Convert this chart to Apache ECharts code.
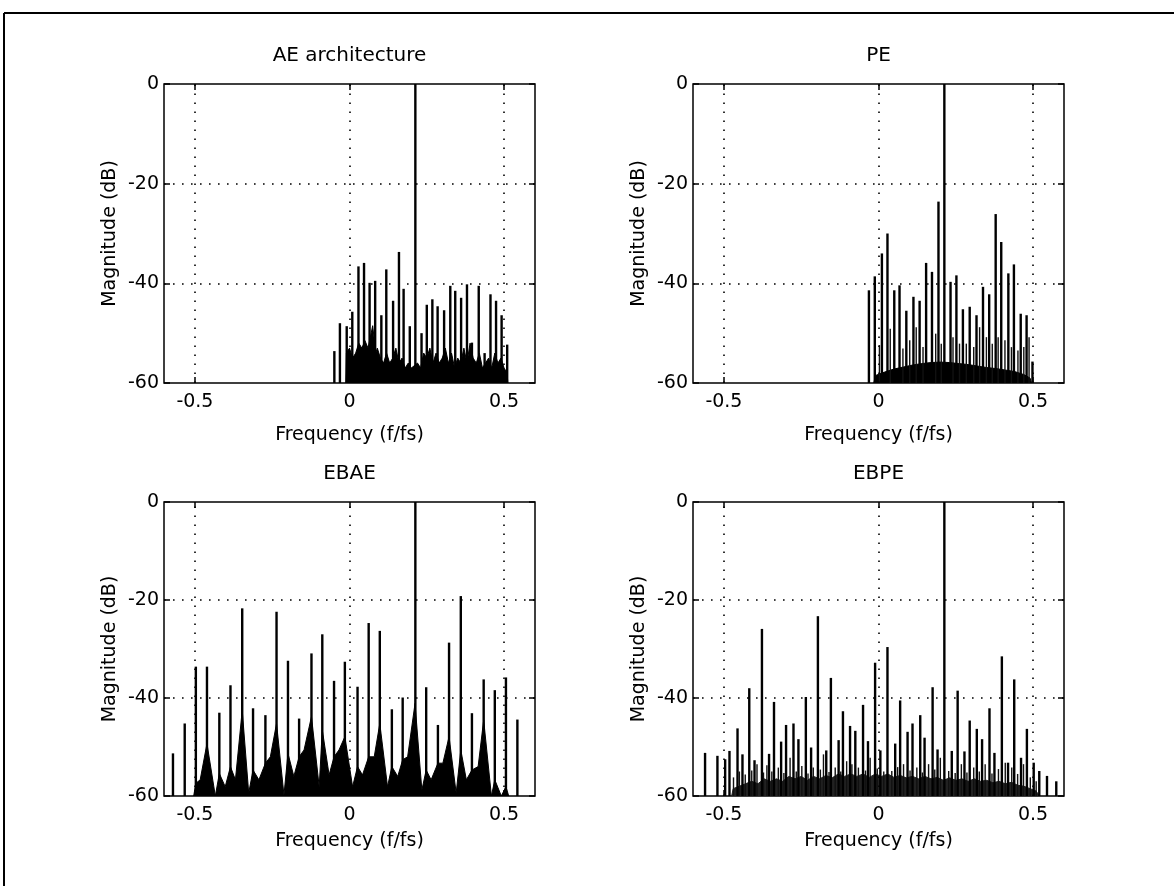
<!DOCTYPE html>
<html>
<head>
<meta charset="utf-8">
<script src="https://cdn.jsdelivr.net/npm/echarts@6/dist/echarts.min.js"></script>
<style>
html,body{margin:0;padding:0;background:#fff;}
#c{width:1174px;height:886px;}
</style>
</head>
<body>
<div id="c"></div>
<script>
// ---------- labels ----------
const TITLES = ['AE architecture', 'PE', 'EBAE', 'EBPE'];
const X_NAME = 'Frequency (f/fs)';
const Y_NAME = 'Magnitude (dB)';
const X_TICKS = [-0.5, 0, 0.5];
const Y_TICKS = [0, -20, -40, -60];
const X_GRIDLINES = [-0.5, 0, 0.5];
const Y_GRIDLINES = [-20, -40];

// ---------- AE architecture ----------
const AE_SPIKE_F  = [-0.049, -0.031, -0.009, 0.009, 0.029, 0.047, 0.065, 0.083, 0.103, 0.119, 0.141, 0.160, 0.175, 0.195, 0.213, 0.233, 0.250, 0.268, 0.285, 0.306, 0.326, 0.342, 0.361, 0.380, 0.396, 0.418, 0.437, 0.456, 0.474, 0.492, 0.510];
const AE_SPIKE_DB = [-53.6, -48.0, -48.6, -45.7, -36.6, -35.9, -39.9, -39.5, -46.4, -37.2, -43.5, -33.7, -41.1, -48.6, 0, -50.0, -44.3, -43.2, -44.6, -45.4, -40.5, -41.5, -42.9, -40.2, -51.9, -40.5, -54.0, -42.2, -43.5, -46.4, -52.3];
const AE_FLOOR_F  = [-0.012, -0.010, 0.000, 0.010, 0.020, 0.030, 0.040, 0.050, 0.060, 0.075, 0.085, 0.090, 0.100, 0.110, 0.120, 0.130, 0.140, 0.150, 0.160, 0.170, 0.180, 0.190, 0.200, 0.220, 0.230, 0.240, 0.250, 0.260, 0.270, 0.280, 0.290, 0.300, 0.310, 0.320, 0.330, 0.340, 0.350, 0.360, 0.370, 0.380, 0.390, 0.400, 0.410, 0.420, 0.430, 0.440, 0.450, 0.460, 0.470, 0.480, 0.490, 0.500, 0.510, 0.512];
const AE_FLOOR_DB = [-60, -54, -53, -55, -54, -52, -53, -51.5, -53, -48.5, -54, -53, -55, -56, -54, -56, -55, -53, -56, -55, -57, -56, -57, -56, -57, -54, -55, -53, -56, -54, -56, -55, -53, -56, -54, -57, -55, -56, -53, -56, -52, -55, -56, -54, -57, -56, -55, -57, -54, -56, -55, -57, -58, -60];

// ---------- PE ----------
const PE_SPIKE_F  = [-0.031, -0.012, 0.011, 0.029, 0.051, 0.068, 0.090, 0.113, 0.133, 0.154, 0.173, 0.194, 0.213, 0.233, 0.252, 0.273, 0.295, 0.317, 0.338, 0.358, 0.379, 0.397, 0.420, 0.438, 0.460, 0.479, 0.498];
const PE_SPIKE_DB = [-41.4, -38.6, -34.0, -30.0, -41.4, -40.4, -45.5, -42.7, -43.5, -35.9, -37.7, -23.6, 0, -39.7, -38.4, -45.2, -44.7, -46.4, -40.7, -42.2, -26.1, -31.7, -38.0, -36.2, -46.1, -46.4, -55.7];
const PE_MINOR_F  = [0.003, 0.038, 0.079, 0.101, 0.122, 0.144, 0.185, 0.203, 0.241, 0.262, 0.284, 0.308, 0.327, 0.349, 0.368, 0.387, 0.409, 0.430, 0.451, 0.470, 0.487];
const PE_MINOR_DB = [-52.4, -49.1, -53.1, -51.4, -48.8, -52.8, -50.1, -52.1, -50.8, -52.1, -52.1, -52.8, -48.8, -50.8, -52.1, -50.8, -51.4, -52.8, -53.5, -52.8, -50.8];
const PE_FLOOR_F  = [-0.015, -0.010, 0.020, 0.050, 0.080, 0.110, 0.140, 0.170, 0.200, 0.230, 0.260, 0.290, 0.320, 0.350, 0.380, 0.410, 0.440, 0.470, 0.490, 0.495];
const PE_FLOOR_DB = [-60, -58.5, -57.8, -57.2, -56.8, -56.4, -56.1, -55.9, -55.8, -55.9, -56.1, -56.3, -56.6, -56.9, -57.1, -57.4, -57.7, -58.3, -59.0, -60];

// ---------- EBAE ----------
const EBAE_SPIKE_F  = [-0.571, -0.533, -0.497, -0.461, -0.421, -0.385, -0.347, -0.312, -0.272, -0.236, -0.199, -0.163, -0.123, -0.088, -0.050, -0.015, 0.026, 0.062, 0.098, 0.137, 0.172, 0.213, 0.248, 0.286, 0.322, 0.360, 0.396, 0.434, 0.470, 0.506, 0.543];
const EBAE_SPIKE_DB = [-51.3, -45.2, -33.6, -33.6, -43.0, -37.4, -21.7, -42.1, -43.5, -22.4, -32.4, -44.2, -30.9, -27.0, -36.5, -32.6, -37.7, -24.7, -26.3, -42.3, -39.9, 0, -37.8, -45.5, -28.7, -19.2, -43.1, -36.2, -38.4, -35.8, -44.4];
const EBAE_FLOOR_F  = [-0.504, -0.497, -0.483, -0.461, -0.434, -0.421, -0.402, -0.385, -0.369, -0.347, -0.326, -0.312, -0.293, -0.272, -0.256, -0.236, -0.212, -0.199, -0.180, -0.163, -0.147, -0.123, -0.098, -0.088, -0.066, -0.050, -0.034, -0.015, 0.010, 0.026, 0.042, 0.062, 0.080, 0.098, 0.123, 0.137, 0.156, 0.172, 0.188, 0.212, 0.234, 0.248, 0.264, 0.286, 0.302, 0.322, 0.345, 0.360, 0.378, 0.396, 0.416, 0.434, 0.459, 0.470, 0.491, 0.506, 0.515];
const EBAE_FLOOR_DB = [-60, -57.4, -56.7, -49.3, -60, -55.4, -58.1, -54.0, -56.7, -42.5, -59.4, -54.7, -56.7, -53.3, -52.0, -45.2, -59.8, -51.3, -56.0, -52.0, -50.6, -43.8, -58.1, -46.5, -55.7, -52.0, -50.6, -47.9, -58.1, -54.0, -55.7, -52.0, -52.0, -45.2, -58.1, -54.0, -56.0, -52.6, -52.0, -41.1, -58.8, -54.7, -56.7, -53.3, -53.3, -47.9, -59.4, -50.6, -56.7, -54.7, -54.0, -44.5, -60, -56.7, -60, -58.1, -60];

// ---------- EBPE ----------
const EBPE_SPIKE_F  = [-0.561, -0.521, -0.496, -0.482, -0.456, -0.440, -0.418, -0.401, -0.377, -0.354, -0.338, -0.315, -0.299, -0.275, -0.259, -0.235, -0.218, -0.196, -0.169, -0.154, -0.129, -0.115, -0.092, -0.075, -0.050, -0.034, -0.011, 0.006, 0.029, 0.054, 0.070, 0.094, 0.110, 0.135, 0.149, 0.175, 0.191, 0.213, 0.237, 0.256, 0.278, 0.295, 0.318, 0.335, 0.359, 0.375, 0.399, 0.419, 0.439, 0.461, 0.480, 0.502, 0.520, 0.545, 0.575];
const EBPE_SPIKE_DB = [-51.2, -51.8, -52.5, -50.8, -46.2, -51.5, -38.0, -52.7, -25.9, -51.4, -40.8, -48.9, -45.5, -45.2, -48.4, -39.8, -50.1, -23.3, -50.7, -35.9, -48.6, -42.7, -45.7, -46.7, -41.4, -48.8, -32.8, -50.7, -29.6, -49.3, -40.5, -46.9, -45.2, -43.5, -48.1, -37.8, -50.5, 0, -50.8, -38.5, -50.9, -44.6, -46.3, -48.4, -42.1, -51.2, -31.5, -53.2, -36.2, -52.2, -46.3, -53.2, -54.9, -55.9, -57.0];
const EBPE_MINOR_F  = [-0.469, -0.450, -0.431, -0.410, -0.393, -0.372, -0.361, -0.345, -0.324, -0.306, -0.286, -0.266, -0.248, -0.228, -0.211, -0.188, -0.178, -0.160, -0.140, -0.122, -0.103, -0.086, -0.065, -0.042, -0.027, -0.004, 0.017, 0.043, 0.062, 0.081, 0.102, 0.124, 0.142, 0.162, 0.182, 0.200, 0.227, 0.248, 0.268, 0.286, 0.308, 0.326, 0.345, 0.367, 0.388, 0.410, 0.431, 0.450, 0.469, 0.491, 0.510];
const EBPE_MINOR_DB = [-56.2, -55.0, -55.6, -54.8, -53.5, -55.2, -53.7, -55.0, -54.2, -55.3, -52.2, -55.0, -53.9, -55.4, -54.2, -54.6, -51.5, -55.1, -54.2, -55.0, -52.9, -53.5, -54.2, -54.8, -52.2, -54.4, -55.0, -54.9, -54.1, -53.5, -54.8, -54.2, -55.2, -53.5, -54.6, -52.2, -54.9, -55.3, -53.5, -55.2, -54.2, -55.0, -53.5, -55.4, -54.5, -53.2, -54.2, -55.5, -53.5, -56.2, -57.0];
const EBPE_FLOOR_F  = [-0.475, -0.470, -0.450, -0.430, -0.410, -0.390, -0.370, -0.350, -0.330, -0.310, -0.290, -0.270, -0.250, -0.230, -0.210, -0.190, -0.170, -0.150, -0.130, -0.110, -0.090, -0.070, -0.050, -0.030, -0.010, 0.010, 0.030, 0.050, 0.070, 0.090, 0.110, 0.130, 0.150, 0.170, 0.190, 0.210, 0.230, 0.250, 0.270, 0.290, 0.310, 0.330, 0.350, 0.370, 0.390, 0.410, 0.430, 0.450, 0.470, 0.490, 0.510, 0.520];
const EBPE_FLOOR_DB = [-60, -58.5, -58, -57.5, -57, -57.5, -56.5, -57, -56.5, -57, -56, -56.5, -56, -56.8, -56, -56.5, -55.8, -56.3, -55.5, -56, -55.5, -56, -55.5, -56.2, -55.5, -56, -55.5, -56.2, -55.8, -56.3, -56, -56.5, -56, -56.5, -56.2, -56.8, -56.3, -56.8, -56.5, -57, -56.5, -57, -56.8, -57.3, -57, -57.5, -57.2, -57.8, -58, -58.5, -59, -60];

// ---------- build ----------
const zip = (a, b) => a.map((v, i) => [v, b[i]]);
const PLOTS = [
  {spikes: zip(AE_SPIKE_F, AE_SPIKE_DB), minor: [], floor: zip(AE_FLOOR_F, AE_FLOOR_DB), floorColor: '#000'},
  {spikes: zip(PE_SPIKE_F, PE_SPIKE_DB), minor: zip(PE_MINOR_F, PE_MINOR_DB), floor: zip(PE_FLOOR_F, PE_FLOOR_DB), floorColor: '#000'},
  {spikes: zip(EBAE_SPIKE_F, EBAE_SPIKE_DB), minor: [], floor: zip(EBAE_FLOOR_F, EBAE_FLOOR_DB), floorColor: '#000'},
  {spikes: zip(EBPE_SPIKE_F, EBPE_SPIKE_DB), minor: zip(EBPE_MINOR_F, EBPE_MINOR_DB), floor: zip(EBPE_FLOOR_F, EBPE_FLOOR_DB), floorColor: '#222'}
];

const FONT = '"DejaVu Sans", sans-serif';
const GRIDS = [
  {left: 164, top: 84, width: 371, height: 299},
  {left: 693, top: 84, width: 371, height: 299},
  {left: 164, top: 502, width: 371, height: 294},
  {left: 693, top: 502, width: 371, height: 294}
];
const XNAME_GAP = [43, 43, 36, 36];

const grid = GRIDS.map(g => Object.assign({show: true, borderColor: '#000', borderWidth: 1.5, backgroundColor: 'transparent', containLabel: false}, g));

const tickStyle = {inside: true, length: 6, lineStyle: {color: '#000', width: 1.5}};
const noLine = {show: false, onZero: false};
const xAxis = [], yAxis = [];
GRIDS.forEach((g, i) => {
  xAxis.push({
    gridIndex: i, type: 'value', min: -0.6, max: 0.6, position: 'bottom',
    axisLine: noLine, splitLine: {show: false},
    axisTick: Object.assign({customValues: X_TICKS}, tickStyle),
    axisLabel: {customValues: X_TICKS, color: '#000', fontSize: 19, fontFamily: FONT, margin: 10},
    name: X_NAME, nameLocation: 'middle', nameGap: XNAME_GAP[i],
    nameTextStyle: {color: '#000', fontSize: 19, fontFamily: FONT}
  });
  yAxis.push({
    gridIndex: i, type: 'value', min: -60, max: 0, interval: 20, position: 'left',
    axisLine: noLine, splitLine: {show: false},
    axisTick: Object.assign({customValues: Y_TICKS}, tickStyle),
    axisLabel: {customValues: Y_TICKS, color: '#000', fontSize: 19, fontFamily: FONT, margin: 5},
    name: Y_NAME, nameLocation: 'middle', nameGap: 44,
    nameTextStyle: {color: '#000', fontSize: 19, fontFamily: FONT}
  });
});
GRIDS.forEach((g, i) => {
  xAxis.push({
    gridIndex: i, type: 'value', min: -0.6, max: 0.6, position: 'top',
    axisLine: noLine, splitLine: {show: false}, axisLabel: {show: false},
    axisTick: Object.assign({customValues: X_TICKS}, tickStyle)
  });
  yAxis.push({
    gridIndex: i, type: 'value', min: -60, max: 0, interval: 20, position: 'right',
    axisLine: noLine, splitLine: {show: false}, axisLabel: {show: false},
    axisTick: Object.assign({customValues: Y_TICKS}, tickStyle)
  });
});

function stemRenderer(width, color) {
  return function (params, api) {
    const x = api.value(0), v = api.value(1);
    const p0 = api.coord([x, -60]);
    const p1 = api.coord([x, v]);
    return {type: 'line', shape: {x1: p0[0], y1: p0[1], x2: p1[0], y2: p1[1]},
            style: {stroke: color, lineWidth: width}};
  };
}

const series = [];
PLOTS.forEach((p, i) => {
  series.push({
    type: 'line', xAxisIndex: i, yAxisIndex: i, data: p.floor,
    symbol: 'none', z: 2, animation: false, silent: true,
    lineStyle: {color: p.floorColor, width: 1},
    areaStyle: {color: p.floorColor, opacity: 1, origin: 'start'},
    markLine: {
      silent: true, symbol: 'none', animation: false, label: {show: false},
      lineStyle: {type: [1.6, 7.4], color: '#000', width: 1.6},
      emphasis: {disabled: true},
      data: X_GRIDLINES.map(v => ({xAxis: v})).concat(Y_GRIDLINES.map(v => ({yAxis: v})))
    }
  });
  if (p.minor.length) {
    series.push({
      type: 'custom', coordinateSystem: 'cartesian2d', xAxisIndex: i, yAxisIndex: i,
      data: p.minor, encode: {x: 0, y: 1}, z: 3, animation: false, silent: true,
      renderItem: stemRenderer(1.4, '#111')
    });
  }
  series.push({
    type: 'custom', coordinateSystem: 'cartesian2d', xAxisIndex: i, yAxisIndex: i,
    data: p.spikes, encode: {x: 0, y: 1}, z: 4, animation: false, silent: true,
    renderItem: stemRenderer(2.4, '#000')
  });
});

const titleGraphics = TITLES.map((t, i) => ({
  type: 'text',
  style: {
    text: t, x: GRIDS[i].left + GRIDS[i].width / 2, y: GRIDS[i].top - 18,
    align: 'center', verticalAlign: 'bottom',
    font: '20px ' + FONT, fill: '#000'
  }
}));

const chart = echarts.init(document.getElementById('c'), null, {renderer: 'canvas'});
chart.setOption({
  backgroundColor: '#fff',
  animation: false,
  grid: grid,
  xAxis: xAxis,
  yAxis: yAxis,
  series: series,
  graphic: titleGraphics.concat([
    {type: 'line', shape: {x1: 4, y1: 13, x2: 1174, y2: 13}, style: {stroke: '#000', lineWidth: 2}},
    {type: 'line', shape: {x1: 4, y1: 13, x2: 4, y2: 886}, style: {stroke: '#000', lineWidth: 2}}
  ])
});
</script>
</body>
</html>
